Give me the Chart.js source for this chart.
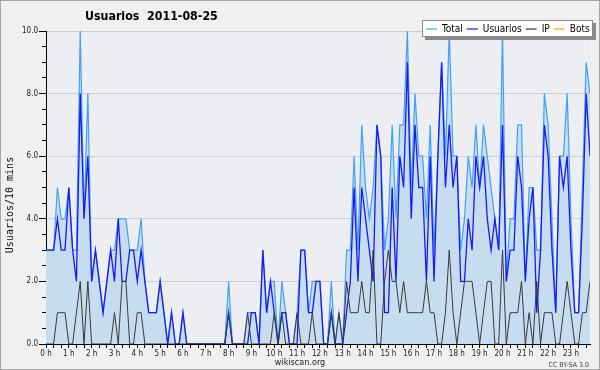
<!DOCTYPE html>
<html><head><meta charset="utf-8">
<script src="https://cdn.jsdelivr.net/npm/chart.js@4/dist/chart.umd.min.js"></script>
<style>html,body{margin:0;padding:0;background:#f0f0f0;}canvas{display:block;}</style>
</head><body>
<canvas id="c" width="600" height="370"></canvas>
<script>
const chartTitle = "Usuarios  2011-08-25";
const yAxisTitle = "Usuarios/10 mins";
const xAxisTitle = "wikiscan.org";
const credits = "CC BY-SA 3.0";
const hourLabels = ["0 h","1 h","2 h","3 h","4 h","5 h","6 h","7 h","8 h","9 h","10 h","11 h","12 h","13 h","14 h","15 h","16 h","17 h","18 h","19 h","20 h","21 h","22 h","23 h"];
const yTickValues = [0,2,4,6,8,10];
const seriesNames = ["Total","Usuarios","IP","Bots"];

const total = [3,3,3,5,4,4,5,3,3,10, 4,8,2,3,2,1,2,3,3,4, 4,4,3,3,3,4,2,1,1,1,
 2,1,0,1,0,0,1,0,0,0, 0,0,0,0,0,0,0,0,2,0, 0,0,0,1,1,1,0,3,1,2,
 2,0,2,1,0,0,1,3,3,1, 2,2,2,0,0,2,0,1,0,3, 3,6,3,7,5,4,5,7,6,3,
 4,7,4,7,7,10,5,8,6,6, 4,7,3,6,9,6,10,6,6,3, 4,6,5,7,5,7,6,5,4,3,
 10,2,4,4,7,7,2,5,5,3, 3,8,7,4,1,6,6,8,4,1, 1,5,9,8];
const usuarios = [3,3,3,4,3,3,5,3,2,8, 4,6,2,3,2,1,2,3,2,4, 2,2,3,3,2,3,2,1,1,1,
 2,1,0,1,0,0,1,0,0,0, 0,0,0,0,0,0,0,0,1,0, 0,0,0,0,1,1,0,3,1,2,
 1,0,1,1,0,0,0,3,3,1, 1,2,2,0,0,1,0,0,0,1, 2,5,2,5,4,3,2,7,6,1,
 1,5,2,6,5,9,4,7,5,5, 2,6,2,6,9,5,7,5,6,2, 2,4,3,6,5,6,4,3,4,3,
 7,2,3,3,6,5,2,4,5,1, 3,7,6,3,1,6,5,6,3,1, 1,4,8,6];
const ip = [0,0,0,1,1,1,0,0,1,2, 0,2,0,0,0,0,0,0,1,0, 2,2,0,0,1,1,0,0,0,0,
 0,0,0,0,0,0,0,0,0,0, 0,0,0,0,0,0,0,0,1,0, 0,0,0,1,0,0,0,0,0,0,
 1,0,1,0,0,0,1,0,0,0, 1,0,0,0,0,1,0,1,0,2, 1,1,1,2,1,1,3,0,0,2,
 3,2,2,1,2,1,1,1,1,1, 2,1,1,0,0,1,3,1,0,1, 2,2,2,1,0,1,2,2,0,0,
 3,0,1,1,1,2,0,1,0,2, 0,1,1,1,0,0,1,2,1,0, 0,1,1,2];
const bots = [0,0,0,0,0,0,0,0,0,0, 0,0,0,0,0,0,0,0,0,0, 0,0,0,0,0,0,0,0,0,0,
 0,0,0,0,0,0,0,0,0,0, 0,0,0,0,0,0,0,0,0,0, 0,0,0,0,0,0,0,0,0,0,
 0,0,0,0,0,0,0,0,0,0, 0,0,0,0,0,0,0,0,0,0, 0,0,0,0,0,0,0,0,0,0,
 0,0,0,0,0,0,0,0,0,0, 0,0,0,0,0,0,0,0,0,0, 0,0,0,0,0,0,0,0,0,0,
 0,0,0,0,0,0,0,0,0,0, 0,0,0,0,0,0,0,0,0,0, 0,0,0,0];

const colors = {total:'#40a2f7', fill:'#c6ddf0', usuarios:'#1a1af2', ip:'#3a3a3a', bots:'#ffa500'};
const FONT = '"DejaVu Sans Condensed", "DejaVu Sans", sans-serif';
const toXY = arr => arr.map((v,i)=>({x:i, y:v}));

const decor = {
  id:'decor',
  beforeDraw(chart){
    const {ctx, chartArea:a} = chart;
    ctx.save();
    ctx.fillStyle = '#f0f0f0';
    ctx.fillRect(0,0,chart.width,chart.height);
    ctx.fillStyle = '#eceef1';
    ctx.fillRect(a.left, a.top, a.right-a.left, a.bottom-a.top);
    ctx.restore();
  },
  afterDraw(chart){
    const ctx = chart.ctx;
    ctx.save();
    // title
    ctx.fillStyle = '#000';
    ctx.font = 'bold 12.3px ' + FONT;
    ctx.textBaseline = 'middle';
    ctx.textAlign = 'left';
    ctx.fillText(chartTitle, 85, 17);
    // y title
    ctx.save();
    ctx.translate(10, 205);
    ctx.rotate(-Math.PI/2);
    ctx.font = '10px "DejaVu Sans Mono", monospace';
    ctx.textAlign = 'center';
    ctx.fillStyle = '#111';
    ctx.fillText(yAxisTitle, 0, 0);
    ctx.restore();
    // x title
    ctx.font = '9px ' + FONT;
    ctx.textAlign = 'center';
    ctx.fillStyle = '#222';
    ctx.fillText(xAxisTitle, 300, 362.5);
    // credits
    ctx.font = '7px ' + FONT;
    ctx.textAlign = 'right';
    ctx.fillStyle = '#444';
    ctx.fillText(credits, 589, 365);
    // legend
    const bx = 422, by = 20, bw = 171, bh = 17;
    ctx.fillStyle = '#8a8a8a';
    ctx.fillRect(bx+3, by+3, bw, bh);
    ctx.fillStyle = '#ffffff';
    ctx.fillRect(bx, by, bw, bh);
    ctx.strokeStyle = '#8a8a8a';
    ctx.lineWidth = 1;
    ctx.strokeRect(bx+0.5, by+0.5, bw-1, bh-1);
    ctx.font = '10px ' + FONT;
    ctx.textAlign = 'left';
    let x = 426;
    const ly = by + bh/2 + 0.5;
    chart.data.datasets.forEach(ds => {
      ctx.strokeStyle = ds.borderColor;
      ctx.lineWidth = 1.2;
      ctx.beginPath(); ctx.moveTo(x, ly); ctx.lineTo(x+11, ly); ctx.stroke();
      x += 16;
      ctx.fillStyle = '#000';
      ctx.fillText(ds.label, x, ly);
      x += ctx.measureText(ds.label).width + 4;
    });
    // outer border
    ctx.strokeStyle = '#a8a8a8';
    ctx.lineWidth = 1;
    ctx.strokeRect(0.5, 0.5, chart.width-1, chart.height-1);
    ctx.restore();
  }
};

new Chart(document.getElementById('c'), {
  type:'line',
  data:{
    datasets:[
      {label:seriesNames[0], data:toXY(total), borderColor:colors.total, backgroundColor:colors.fill, fill:'origin', borderWidth:1.2, order:4},
      {label:seriesNames[1], data:toXY(usuarios), borderColor:colors.usuarios, borderWidth:1.3, fill:false, order:3},
      {label:seriesNames[2], data:toXY(ip), borderColor:colors.ip, borderWidth:1, fill:false, order:2},
      {label:seriesNames[3], data:toXY(bots), borderColor:colors.bots, borderWidth:1, fill:false, order:5}
    ]
  },
  options:{
    responsive:false, animation:false, devicePixelRatio:1, events:[],
    layout:{padding:{left:0, right:10, top:31, bottom:0}},
    elements:{point:{radius:0}, line:{tension:0}},
    plugins:{legend:{display:false}, tooltip:{enabled:false}, title:{display:false}},
    scales:{
      x:{type:'linear', min:0, max:143, z:1,
        grid:{drawOnChartArea:false, drawTicks:true, tickLength:4, tickColor:'#000'},
        border:{color:'#000', width:1},
        ticks:{stepSize:2, autoSkip:false, maxRotation:0, includeBounds:false, padding:1, color:'#222',
          font:{family:FONT, size:8},
          callback:v => (v % 6 === 0 ? hourLabels[v/6] : '')},
        afterFit(s){ s.height = 26; }
      },
      y:{type:'linear', position:'left', weight:2, min:0, max:10,
        grid:{drawOnChartArea:true, color:'#cfcfcf', drawTicks:true, tickLength:3, tickColor:'#000'},
        border:{display:false},
        ticks:{stepSize:2, autoSkip:false, padding:1, color:'#222', font:{family:FONT, size:8},
          callback:v => (yTickValues.includes(v) ? v.toFixed(1) : '')},
        afterFit(s){ s.width = 42; }
      },
      y2:{type:'linear', position:'left', weight:1, min:0, max:10,
        grid:{drawOnChartArea:false, drawTicks:true, tickLength:4, tickColor:'#000'},
        border:{display:true, color:'#000', width:1},
        ticks:{stepSize:0.5, autoSkip:false, padding:0, callback:() => ''},
        afterFit(s){ s.width = 4; }
      }
    }
  },
  plugins:[decor]
});
</script>
</body></html>
